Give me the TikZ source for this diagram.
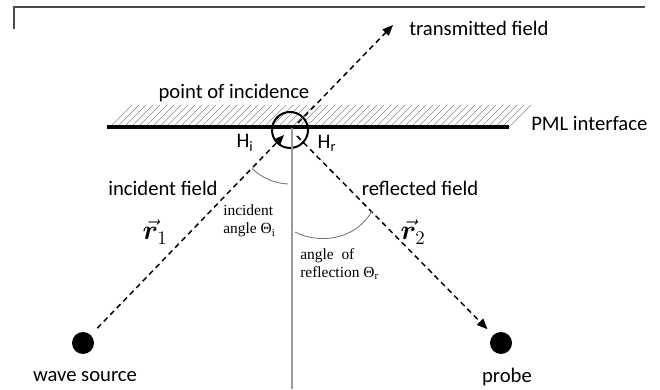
\documentclass[tikz,border=0pt]{standalone}
\usepackage{fontspec}
\setmainfont{Carlito}
\newfontfamily\serifnote{Liberation Serif}
\usepackage{bm}
\usetikzlibrary{arrows.meta}
\definecolor{framegray}{HTML}{4A4A4A}
\definecolor{hatchgray}{HTML}{8C8C8C}
\definecolor{normalgray}{HTML}{9A9A9A}
\definecolor{arcgray}{HTML}{6E6E6E}

\begin{document}
\begin{tikzpicture}[
  x=0.75pt, y=0.75pt,
  fieldlabel/.style={inner sep=0pt, font=\fontsize{15.5}{18}\selectfont},
  anglelabel/.style={inner sep=0pt, align=left, font=\serifnote\fontsize{11.6}{13.5}\selectfont},
  vectorlabel/.style={inner sep=0pt, font=\fontsize{20}{22}\selectfont},
  dot/.style={circle, fill=black, inner sep=0pt, minimum size=16.5pt},
  incidencering/.style={circle, draw=black, line width=1.5pt, inner sep=0pt, minimum size=27pt},
  ray/.style={-{Triangle[length=8pt, width=6.5pt]}, line width=1.1pt,
    dash pattern=on 4pt off 3pt},
  interface/.style={line width=2.3pt},
  hatch/.style={hatchgray, line width=0.4pt},
  normal/.style={normalgray, line width=1pt},
  anglearc/.style={arcgray, line width=0.6pt},
  framing/.style={framegray, line width=1.6pt}
]
\useasboundingbox (0,0) rectangle (660,389);
% ---------------- frame corner ----------------
\draw[framing] (14,360) -- (14,382) -- (645,382);
% ---------------- PML interface ----------------
\foreach \x in {110,117,...,509}
  \draw[hatch] (\x,262) -- ++(22,22);
\coordinate (ifLeft) at (107,262);
\coordinate (ifRight) at (509,262);
\draw[interface] (ifLeft) -- (ifRight);
\node[fieldlabel, anchor=west] (pml) at (531,266) {PML interface};
% ---------------- point of incidence ----------------
\coordinate (poi) at (290,259);
\node[incidencering] (ring) at (poi) {};
\node[fieldlabel] (poilabel) at (234,296) {point of incidence};
\coordinate (normalEnd) at (292,0);
\draw[normal] (292,261) -- (normalEnd);
% ---------------- source and probe ----------------
\node[dot] (source) at (83,46) {};
\node[dot] (probe) at (501,46) {};
\node[fieldlabel] (sourcelabel) at (85,12) {wave source};
\node[fieldlabel] (probelabel) at (507,12) {probe};
% ---------------- rays ----------------
\coordinate (inTip) at (284,254);
\coordinate (refStart) at (297,253);
\coordinate (trStart) at (298,266);
\coordinate (trTip) at (393,364);
\draw[ray, shorten <=7pt] (source) -- (inTip);
\draw[ray, shorten >=6pt] (refStart) -- (probe);
\draw[ray] (trStart) -- (trTip);
\node[fieldlabel, anchor=west] (trlabel) at (409,361) {transmitted field};
\node[fieldlabel] (inlabel) at (163,201) {incident field};
\node[fieldlabel] (reflabel) at (420,201) {reflected field};
\node[fieldlabel] (hi) at (245,246) {H\textsubscript{i}};
\node[fieldlabel] (hr) at (327,246) {H\textsubscript{r}};
\node[vectorlabel] (r1) at (155,157) {$\vec{\bm r}_1$};
\node[vectorlabel] (r2) at (413,157) {$\vec{\bm r}_2$};
% ---------------- angles ----------------
\draw[anglearc] (poi) ++(225:40.5pt) arc[start angle=225, end angle=268, radius=40.5pt];
\draw[anglearc] (295,157) .. controls (318,145) and (355,148) .. (372,178);
\node[anglelabel, anchor=west] (inangle) at (223,168) {incident\\angle \char"0398\textsubscript{i}};
\node[anglelabel, anchor=west] (refangle) at (300,125) {angle\ \ of\\reflection \char"0398\textsubscript{r}};
\end{tikzpicture}
\end{document}
